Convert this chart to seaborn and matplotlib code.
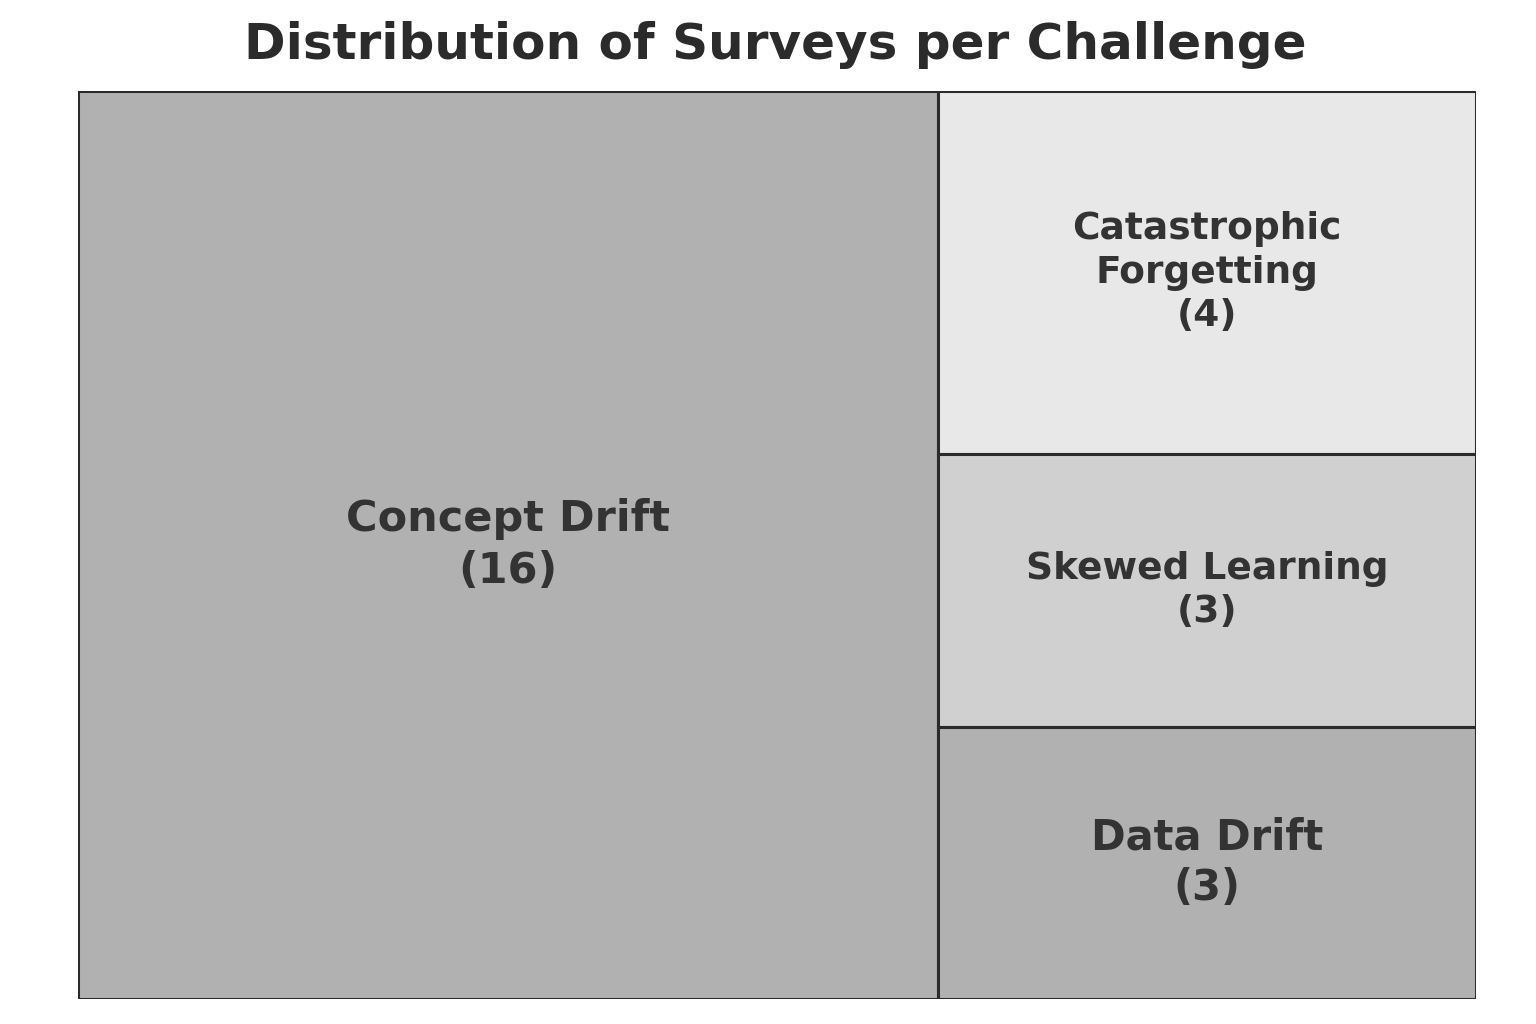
import matplotlib.pyplot as plt
import seaborn as sns
from matplotlib.patches import Rectangle

# data
challenges = ['Concept Drift', 'Catastrophic Forgetting', 'Skewed Learning', 'Data Drift']
surveys = [16, 4, 3, 3]
labels = ['Concept Drift\n(16)', 'Catastrophic\nForgetting\n(4)', 'Skewed Learning\n(3)', 'Data Drift\n(3)']
colors = ['#b1b1b1', '#e8e8e8', '#d0d0d0', '#b1b1b1']
font_sizes = [31, 27, 27, 30]

sns.set_style('white')
plt.rcParams['font.family'] = ['DejaVu Sans']

fig = plt.figure(figsize=(15.36, 10.24), dpi=100)
ax = fig.add_axes([0.0508, 0.0244, 0.9102, 0.8867])

# simple slice-and-dice layout: largest on the left, the rest stacked on the right
total = sum(surveys)
big_w = surveys[0] / total
rects = [(0, 0, big_w, 1)]
rest = sum(surveys[1:])
top = 1.0
for v in surveys[1:]:
    h = v / rest
    rects.append((big_w, top - h, 1 - big_w, h))
    top -= h

for (x, y, w, h), lab, c, fs in zip(rects, labels, colors, font_sizes):
    ax.add_patch(Rectangle((x, y), w, h, facecolor=c, edgecolor='#2b2b2b', linewidth=2.2))
    ax.text(x + w / 2, y + h / 2, lab, ha='center', va='center', fontsize=fs,
            fontweight='bold', color='#333333', linespacing=1.28)

ax.set_xlim(0, 1)
ax.set_ylim(0, 1)
ax.axis('off')
fig.text(0.505, 0.956, 'Distribution of Surveys per Challenge', ha='center', va='center',
         fontsize=36, fontweight='bold', color='#2b2b2b')

fig.savefig('out.png', dpi=100)
